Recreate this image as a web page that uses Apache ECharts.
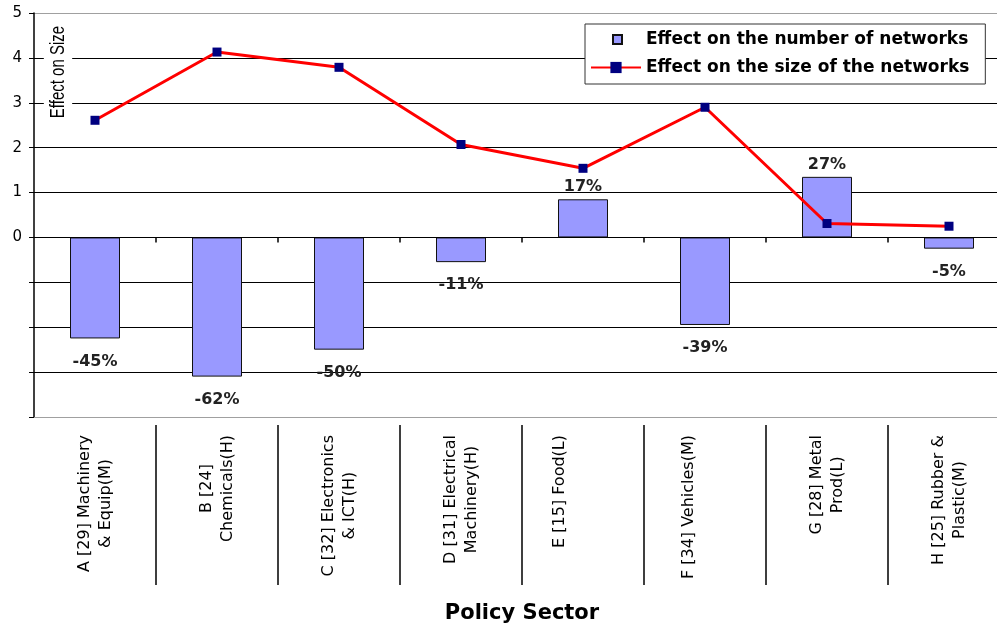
<!DOCTYPE html>
<html>
<head>
<meta charset="utf-8">
<script src="https://cdn.jsdelivr.net/npm/echarts@6/dist/echarts.min.js"></script>
<style>
  html, body { margin: 0; padding: 0; background: #fff; }
  #chart { width: 997px; height: 623px; }
</style>
</head>
<body>
<div id="chart"></div>
<script>
// ---- data ----
const categories = [
  'A [29] Machinery\n& Equip(M)',
  'B [24]\nChemicals(H)',
  'C [32] Electronics\n& ICT(H)',
  'D [31] Electrical\nMachinery(H)',
  'E [15] Food(L)',
  'F [34] Vehicles(M)',
  'G [28] Metal\nProd(L)',
  'H [25] Rubber &\nPlastic(M)'
];
const networkCountEffect = [-45, -62, -50, -11, 17, -39, 27, -5];   // percent
const networkSizeEffect = [2.61, 4.13, 3.79, 2.07, 1.54, 2.90, 0.31, 0.25];
const yTickLabels = ['0', '1', '2', '3', '4', '5'];
const seriesNames = ['Effect on the number of networks', 'Effect on the size of the networks'];

// ---- layout helpers (styles only) ----
const labelShift = [0, 0, 0, 0, 46, 32, 0, 0]; // extra padding that nudges single-line labels like Excel's wrap

// ---- chart ----
const chart = echarts.init(document.getElementById('chart'), null, { renderer: 'canvas' });

const barData = networkCountEffect.map(v => ({
  value: v,
  label: { position: v < 0 ? 'bottom' : 'top', distance: v < 0 ? 15 : 4 }
}));

const labelAxisData = categories.map((c, i) => ({
  value: c,
  textStyle: { padding: [0, 0, labelShift[i], 0] }
}));

const labelFormatter = s => s.split('\n').map(t => '{a|' + t + '}').join('\n');

const gridColors = ['#a0a0a0', '#000', '#000', '#000', '#000', '#000', '#000', '#000', '#000', '#a0a0a0'];

const option = {
  backgroundColor: '#fff',
  animation: false,
  grid: { left: 34, top: 13, width: 976, height: 404, containLabel: false, outerBoundsMode: 'none' },
  legend: {
    orient: 'vertical',
    left: 585,
    top: 24,
    padding: [7, 16, 8, 5],
    itemWidth: 50,
    itemHeight: 14,
    itemGap: 11,
    backgroundColor: '#fff',
    borderColor: '#333',
    borderWidth: 1,
    textStyle: { fontFamily: 'DejaVu Sans', fontWeight: 'bold', fontSize: 17, color: '#000' },
    data: [
      { name: seriesNames[0], icon: 'path://M0,0L0.01,0M50,14L49.99,14M22,2.5L31,2.5L31,11.5L22,11.5Z' },
      { name: seriesNames[1] }
    ]
  },
  xAxis: [
    {
      type: 'category', data: categories, position: 'bottom',
      axisLine: { onZero: true, lineStyle: { color: '#000', width: 1 } },
      axisTick: { show: true, length: 5, interval: i => i > 0, lineStyle: { color: '#000', width: 1.5 } },
      axisLabel: { show: false },
      z: 5
    },
    {
      type: 'category', data: labelAxisData, position: 'bottom',
      axisLine: { onZero: false, lineStyle: { color: '#a0a0a0', width: 1 } },
      axisTick: { show: false },
      axisLabel: {
        rotate: 90, margin: 18, color: '#000', interval: 0,
        formatter: labelFormatter,
        rich: { a: { align: 'center', fontFamily: 'DejaVu Sans', fontSize: 16, lineHeight: 21, color: '#000' } }
      },
      name: 'Policy Sector', nameLocation: 'middle', nameGap: 186,
      nameTextStyle: { fontFamily: 'DejaVu Sans', fontWeight: 'bold', fontSize: 21, color: '#000' }
    },
    {
      type: 'category', data: categories, position: 'bottom', offset: 8,
      axisLine: { show: false, onZero: false },
      axisTick: { show: true, length: 160, interval: i => i > 0, lineStyle: { color: '#000', width: 1.5 } },
      axisLabel: { show: false }
    }
  ],
  yAxis: [
    {
      type: 'value', min: -4, max: 5, interval: 1,
      axisLine: { show: true, onZero: false, lineStyle: { color: '#000', width: 1.5 } },
      axisTick: { show: true, length: 5, lineStyle: { color: '#000' } },
      axisLabel: {
        margin: 12, color: '#000', fontFamily: 'DejaVu Sans', fontSize: 15,
        formatter: v => (yTickLabels.indexOf(String(v)) >= 0 ? String(v) : '')
      },
      splitLine: { show: true, lineStyle: { color: gridColors, width: 1 } }
    },
    { type: 'value', min: -80, max: 100, interval: 20, show: false, splitLine: { show: false } }
  ],
  graphic: [
    {
      type: 'text', x: 58, y: 72, rotation: Math.PI / 2, scaleY: 1.35, z: 10,
      style: {
        text: 'Effect on Size', fill: '#000',
        font: '15px "Liberation Sans", Arial, sans-serif',
        align: 'center', verticalAlign: 'middle',
        backgroundColor: '#fff', padding: [3, 2]
      }
    }
  ],
  series: [
    {
      name: seriesNames[0], type: 'bar', xAxisIndex: 0, yAxisIndex: 1,
      data: barData, barWidth: 50,
      itemStyle: { color: '#9999FF', borderColor: '#111', borderWidth: 1 },
      label: {
        show: true, formatter: '{c}%', color: '#222',
        fontFamily: 'DejaVu Sans', fontWeight: 'bold', fontSize: 16
      },
      z: 2
    },
    {
      name: seriesNames[1], type: 'line', xAxisIndex: 0, yAxisIndex: 0,
      data: networkSizeEffect,
      symbol: 'rect', symbolSize: 9, showAllSymbol: true,
      lineStyle: { color: '#FF0000', width: 3 },
      itemStyle: { color: '#000080' },
      z: 6
    }
  ]
};
chart.setOption(option);
</script>
</body>
</html>
